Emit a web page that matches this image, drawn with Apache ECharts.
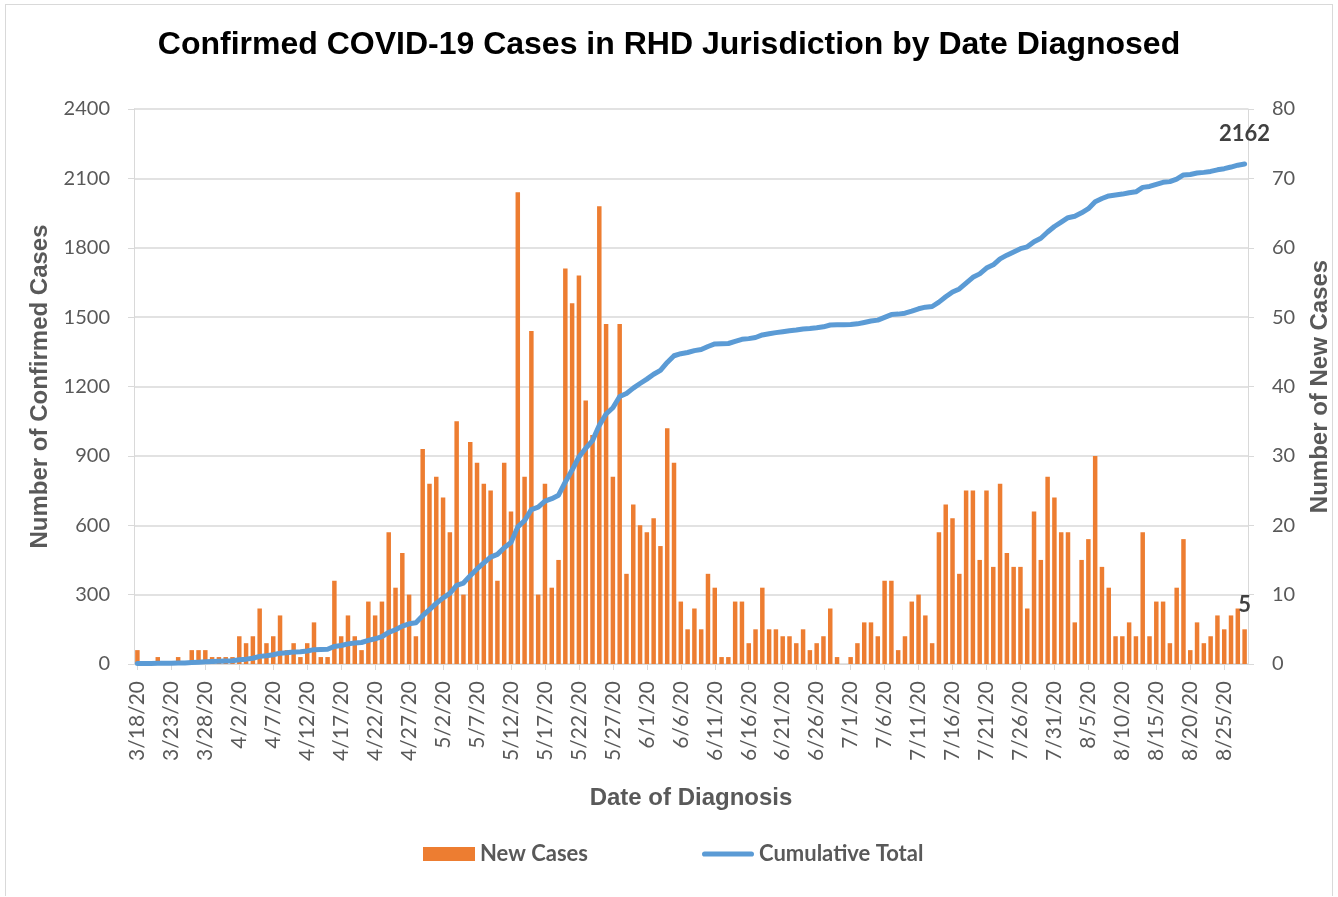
<!DOCTYPE html>
<html>
<head>
<meta charset="utf-8">
<title>Confirmed COVID-19 Cases in RHD Jurisdiction</title>
<script src="https://cdn.jsdelivr.net/npm/echarts@6/dist/echarts.min.js"></script>
<style>
    html,body{margin:0;padding:0;background:#fff;overflow:hidden;}
    #frame{position:absolute;left:5px;top:4px;width:1328px;height:892px;border:1px solid #d9d9d9;border-bottom:none;box-sizing:border-box;}
    #chart{position:absolute;left:0;top:0;width:1338px;height:897px;}
</style>
</head>
<body>
<div id="frame"></div>
<div id="chart"></div>
<script>
// date of diagnosis, 3/18/20 .. 8/28/20
let dates=[
    '3/18/20','3/19/20','3/20/20','3/21/20','3/22/20','3/23/20','3/24/20','3/25/20','3/26/20','3/27/20','3/28/20','3/29/20','3/30/20','3/31/20',
    '4/1/20','4/2/20','4/3/20','4/4/20','4/5/20','4/6/20','4/7/20','4/8/20','4/9/20','4/10/20','4/11/20','4/12/20','4/13/20','4/14/20','4/15/20','4/16/20',
    '4/17/20','4/18/20','4/19/20','4/20/20','4/21/20','4/22/20','4/23/20','4/24/20','4/25/20','4/26/20','4/27/20','4/28/20','4/29/20','4/30/20',
    '5/1/20','5/2/20','5/3/20','5/4/20','5/5/20','5/6/20','5/7/20','5/8/20','5/9/20','5/10/20','5/11/20','5/12/20','5/13/20','5/14/20','5/15/20','5/16/20',
    '5/17/20','5/18/20','5/19/20','5/20/20','5/21/20','5/22/20','5/23/20','5/24/20','5/25/20','5/26/20','5/27/20','5/28/20','5/29/20','5/30/20','5/31/20',
    '6/1/20','6/2/20','6/3/20','6/4/20','6/5/20','6/6/20','6/7/20','6/8/20','6/9/20','6/10/20','6/11/20','6/12/20','6/13/20','6/14/20','6/15/20',
    '6/16/20','6/17/20','6/18/20','6/19/20','6/20/20','6/21/20','6/22/20','6/23/20','6/24/20','6/25/20','6/26/20','6/27/20','6/28/20','6/29/20','6/30/20',
    '7/1/20','7/2/20','7/3/20','7/4/20','7/5/20','7/6/20','7/7/20','7/8/20','7/9/20','7/10/20','7/11/20','7/12/20','7/13/20','7/14/20','7/15/20','7/16/20',
    '7/17/20','7/18/20','7/19/20','7/20/20','7/21/20','7/22/20','7/23/20','7/24/20','7/25/20','7/26/20','7/27/20','7/28/20','7/29/20','7/30/20','7/31/20',
    '8/1/20','8/2/20','8/3/20','8/4/20','8/5/20','8/6/20','8/7/20','8/8/20','8/9/20','8/10/20','8/11/20','8/12/20','8/13/20','8/14/20',
    '8/15/20','8/16/20','8/17/20','8/18/20','8/19/20','8/20/20','8/21/20','8/22/20','8/23/20','8/24/20','8/25/20','8/26/20','8/27/20','8/28/20'
];
// new cases per day (right axis)
let newCases=[
    2,0,0,1,0,0,1,0,2,2,2,1,1,1,
    1,4,3,4,8,3,4,7,2,3,1,3,6,1,1,12,
    4,7,4,2,9,7,9,19,11,16,10,4,31,26,
    27,24,19,35,10,32,29,26,25,12,29,22,68,27,48,10,
    26,11,15,57,52,56,38,33,66,49,27,49,13,23,20,
    19,21,17,34,29,9,5,8,5,13,11,1,1,9,9,
    3,5,11,5,5,4,4,3,5,2,3,4,8,1,0,
    1,3,6,6,4,12,12,2,4,9,10,7,3,19,23,21,
    13,25,25,15,25,14,26,16,14,14,8,22,15,27,24,
    19,19,6,15,18,30,14,11,4,4,6,4,19,4,
    9,9,3,11,18,2,6,3,4,7,5,7,8,5
];
// cumulative total (left axis)
let cumulative=[
    2,2,2,3,3,3,4,4,6,8,10,11,12,13,
    14,18,21,25,33,36,40,47,49,52,53,56,62,63,64,76,
    80,87,91,93,102,109,118,137,148,164,174,178,209,235,
    262,286,305,340,350,382,411,437,462,474,503,525,593,620,668,678,
    704,715,730,787,839,895,933,966,1032,1081,1108,1157,1170,1193,1213,
    1232,1253,1270,1304,1333,1342,1347,1355,1360,1373,1384,1385,1386,1395,1404,
    1407,1412,1423,1428,1433,1437,1441,1444,1449,1451,1454,1458,1466,1467,1467,
    1468,1471,1477,1483,1487,1499,1511,1513,1517,1526,1536,1543,1546,1565,1588,1609,
    1622,1647,1672,1687,1712,1726,1752,1768,1782,1796,1804,1826,1841,1868,1892,
    1911,1930,1936,1951,1969,1999,2013,2024,2028,2032,2038,2042,2061,2065,
    2074,2083,2086,2097,2115,2117,2123,2126,2130,2137,2142,2149,2157,2162
];

const calibri='Lato';
const arial='"Liberation Sans", Arial';
const grayText='#595959';
const gridGray='#d9d9d9';
const lastIdx=dates.length-1;

let endLabelStyle={show:true,position:'top',fontFamily:calibri,fontSize:22,fontWeight:'bold',color:'#404040'};

let barData=[];
for(let i=0;i<newCases.length;i++){
    if(i===lastIdx){
        barData.push({value:newCases[i],label:Object.assign({distance:13},endLabelStyle)});
    }else {
        barData.push(newCases[i]);
    }
}

let myChart=echarts.init(document.getElementById('chart'),null,{renderer:'canvas'});
let option={
    animation:false,
    backgroundColor:'transparent',
    title:{
        text:'Confirmed COVID-19 Cases in RHD Jurisdiction by Date Diagnosed',
        left:'center',
        top:24,
        textStyle:{fontFamily:arial,fontSize:32,fontWeight:'bold',color:'#000'}
    },
    legend:{
        top:838,
        left:418,
        itemGap:114,
        itemWidth:52,
        itemHeight:14,
        textStyle:{fontFamily:calibri,fontSize:22,fontWeight:'bold',color:grayText},
        data:[
            {name:'New Cases',icon:'rect'},
            {name:'Cumulative Total',icon:'path://M5,0 H95 A5,5 0 0 1 95,10 H5 A5,5 0 0 1 5,0 Z'}
        ]
    },
    grid:{left:134,right:90,top:109,bottom:233,containLabel:false,outerBoundsMode:'none'},
    xAxis:{
        type:'category',
        data:dates,
        boundaryGap:true,
        name:'Date of Diagnosis',
        nameLocation:'middle',
        nameGap:122,
        nameTextStyle:{fontFamily:arial,fontSize:24,fontWeight:'bold',color:grayText},
        axisLine:{show:true,lineStyle:{color:gridGray,width:1}},
        axisTick:{show:true,interval:4,alignWithLabel:true,length:6,lineStyle:{color:gridGray}},
        axisLabel:{interval:4,rotate:90,margin:17,fontFamily:calibri,fontSize:21,color:grayText}
    },
    yAxis:[
        {
            type:'value',
            min:0,max:2400,interval:300,
            name:'Number of Confirmed Cases',
            nameLocation:'middle',
            nameGap:76,
            nameTextStyle:{fontFamily:arial,fontSize:24,fontWeight:'bold',color:grayText},
            axisLine:{show:true,lineStyle:{color:gridGray}},
            axisTick:{show:true,length:6,lineStyle:{color:gridGray}},
            axisLabel:{margin:24,fontFamily:calibri,fontSize:20,color:grayText,formatter:function(v){return String(v);}},
            splitLine:{show:true,lineStyle:{color:gridGray,width:1.5}}
        },
        {
            type:'value',
            min:0,max:80,interval:10,
            name:'Number of New Cases',
            nameLocation:'middle',
            nameGap:60,
            nameRotate:90,
            nameTextStyle:{fontFamily:arial,fontSize:24,fontWeight:'bold',color:grayText},
            axisLine:{show:true,lineStyle:{color:gridGray}},
            axisTick:{show:true,length:6,lineStyle:{color:gridGray}},
            axisLabel:{margin:24,fontFamily:calibri,fontSize:20,color:grayText},
            splitLine:{show:false}
        }
    ],
    series:[
        {
            name:'New Cases',
            type:'bar',
            yAxisIndex:1,
            barWidth:'66%',
            itemStyle:{color:'#ED7D31'},
            data:barData
        },
        {
            name:'Cumulative Total',
            type:'line',
            yAxisIndex:0,
            symbol:'none',
            showSymbol:false,
            smooth:false,
            lineStyle:{color:'#5B9BD5',width:5,cap:'round',join:'round'},
            itemStyle:{color:'#5B9BD5'},
            data:cumulative,
            markPoint:{
                symbol:'circle',
                symbolSize:0,
                silent:true,
                label:Object.assign({distance:19,formatter:'{c}'},endLabelStyle),
                data:[{coord:[lastIdx,cumulative[lastIdx]],value:cumulative[lastIdx]}]
            },
            z:3
        }
    ]
};
myChart.setOption(option);
</script>
</body>
</html>
